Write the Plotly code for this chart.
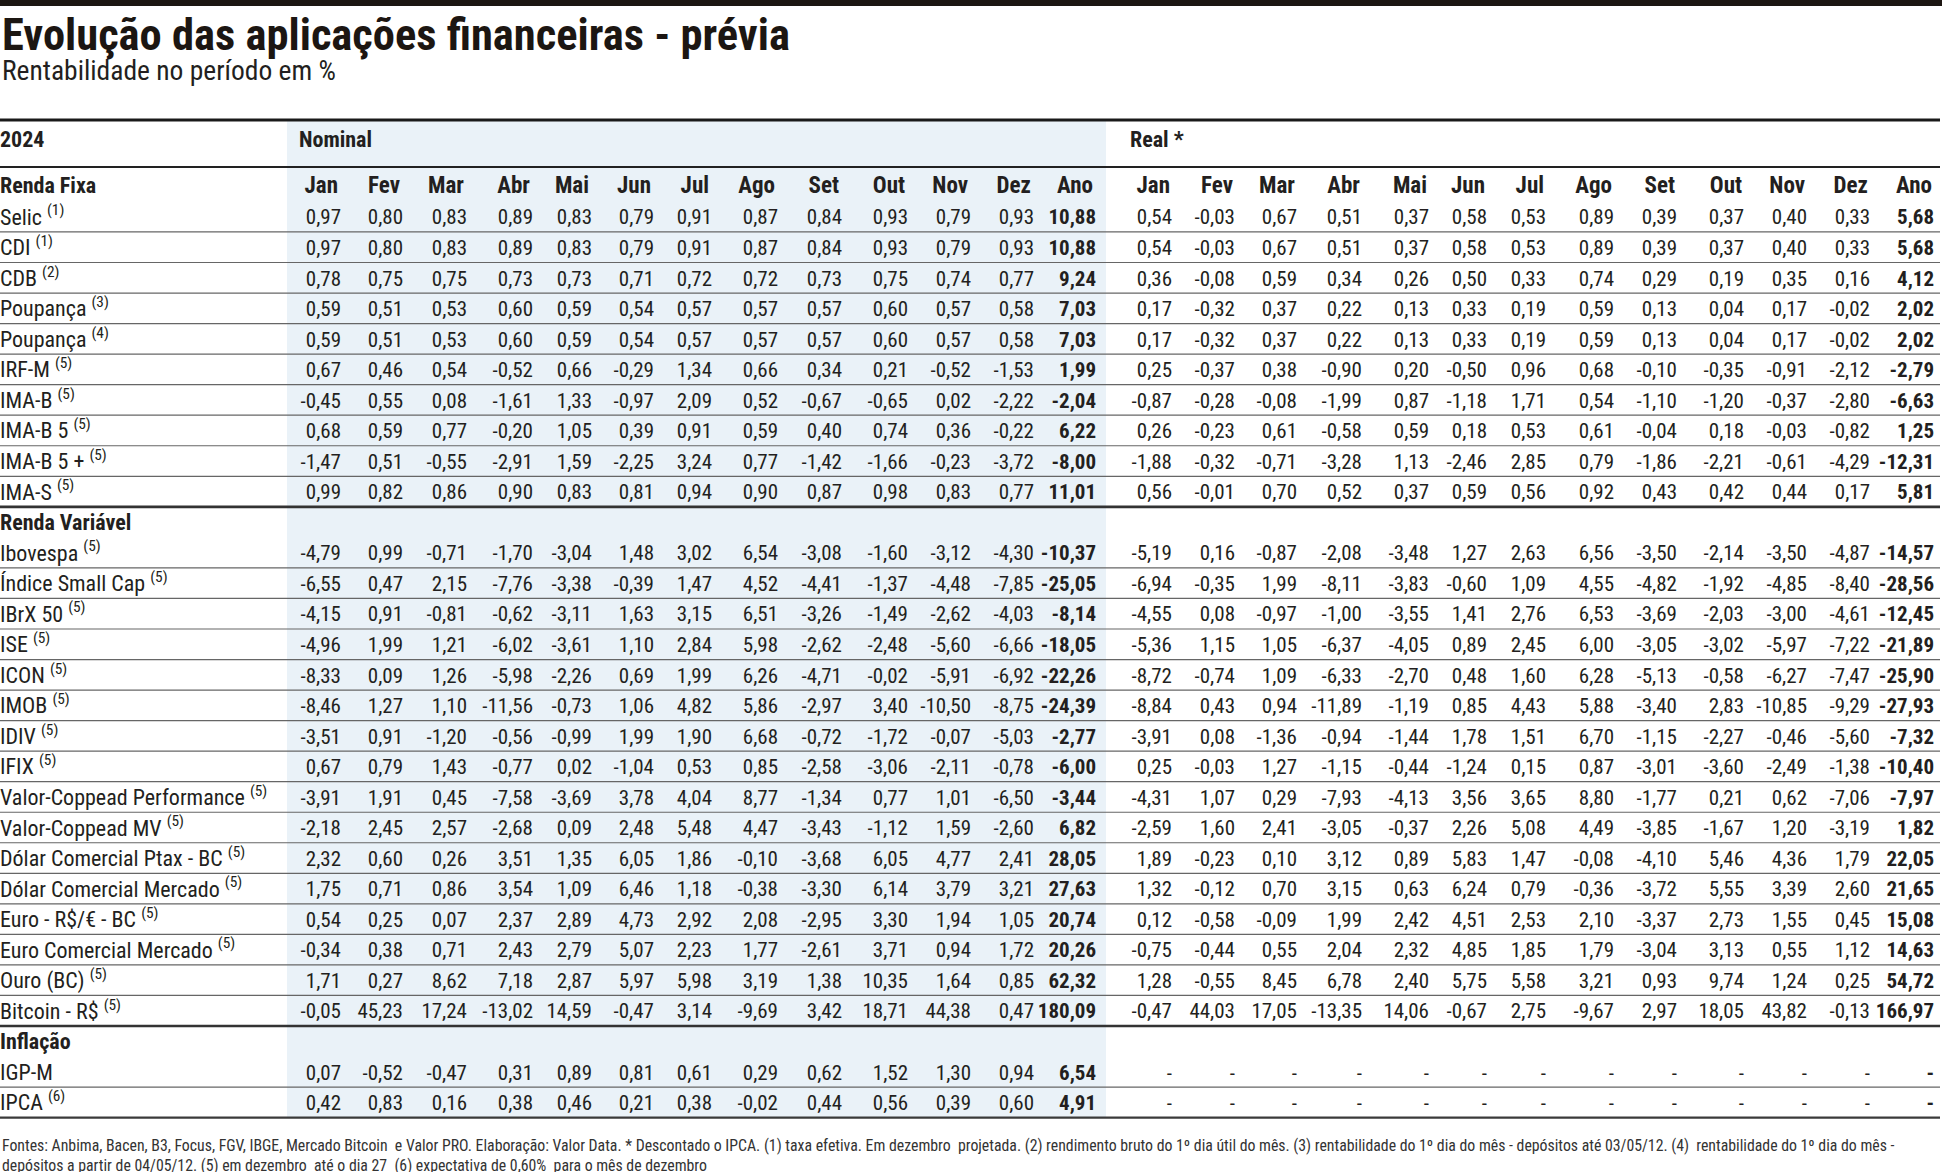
import plotly.graph_objects as go

# ---------------- data ----------------
TITLE = "Evolução das aplicações financeiras - prévia"
SUBTITLE = "Rentabilidade no período em %"
YEAR = "2024"
GROUP_NOMINAL = "Nominal"
GROUP_REAL = "Real *"
MONTHS = ["Jan", "Fev", "Mar", "Abr", "Mai", "Jun", "Jul", "Ago", "Set", "Out", "Nov", "Dez", "Ano"]

RF_TITLE = "Renda Fixa"
RF_LABELS = ["Selic", "CDI", "CDB", "Poupança", "Poupança", "IRF-M", "IMA-B", "IMA-B 5", "IMA-B 5 +", "IMA-S"]
RF_NOTES = ["1", "1", "2", "3", "4", "5", "5", "5", "5", "5"]
RF_NOMINAL = [
    [0.97, 0.80, 0.83, 0.89, 0.83, 0.79, 0.91, 0.87, 0.84, 0.93, 0.79, 0.93, 10.88],
    [0.97, 0.80, 0.83, 0.89, 0.83, 0.79, 0.91, 0.87, 0.84, 0.93, 0.79, 0.93, 10.88],
    [0.78, 0.75, 0.75, 0.73, 0.73, 0.71, 0.72, 0.72, 0.73, 0.75, 0.74, 0.77, 9.24],
    [0.59, 0.51, 0.53, 0.60, 0.59, 0.54, 0.57, 0.57, 0.57, 0.60, 0.57, 0.58, 7.03],
    [0.59, 0.51, 0.53, 0.60, 0.59, 0.54, 0.57, 0.57, 0.57, 0.60, 0.57, 0.58, 7.03],
    [0.67, 0.46, 0.54, -0.52, 0.66, -0.29, 1.34, 0.66, 0.34, 0.21, -0.52, -1.53, 1.99],
    [-0.45, 0.55, 0.08, -1.61, 1.33, -0.97, 2.09, 0.52, -0.67, -0.65, 0.02, -2.22, -2.04],
    [0.68, 0.59, 0.77, -0.20, 1.05, 0.39, 0.91, 0.59, 0.40, 0.74, 0.36, -0.22, 6.22],
    [-1.47, 0.51, -0.55, -2.91, 1.59, -2.25, 3.24, 0.77, -1.42, -1.66, -0.23, -3.72, -8.00],
    [0.99, 0.82, 0.86, 0.90, 0.83, 0.81, 0.94, 0.90, 0.87, 0.98, 0.83, 0.77, 11.01],
]
RF_REAL = [
    [0.54, -0.03, 0.67, 0.51, 0.37, 0.58, 0.53, 0.89, 0.39, 0.37, 0.40, 0.33, 5.68],
    [0.54, -0.03, 0.67, 0.51, 0.37, 0.58, 0.53, 0.89, 0.39, 0.37, 0.40, 0.33, 5.68],
    [0.36, -0.08, 0.59, 0.34, 0.26, 0.50, 0.33, 0.74, 0.29, 0.19, 0.35, 0.16, 4.12],
    [0.17, -0.32, 0.37, 0.22, 0.13, 0.33, 0.19, 0.59, 0.13, 0.04, 0.17, -0.02, 2.02],
    [0.17, -0.32, 0.37, 0.22, 0.13, 0.33, 0.19, 0.59, 0.13, 0.04, 0.17, -0.02, 2.02],
    [0.25, -0.37, 0.38, -0.90, 0.20, -0.50, 0.96, 0.68, -0.10, -0.35, -0.91, -2.12, -2.79],
    [-0.87, -0.28, -0.08, -1.99, 0.87, -1.18, 1.71, 0.54, -1.10, -1.20, -0.37, -2.80, -6.63],
    [0.26, -0.23, 0.61, -0.58, 0.59, 0.18, 0.53, 0.61, -0.04, 0.18, -0.03, -0.82, 1.25],
    [-1.88, -0.32, -0.71, -3.28, 1.13, -2.46, 2.85, 0.79, -1.86, -2.21, -0.61, -4.29, -12.31],
    [0.56, -0.01, 0.70, 0.52, 0.37, 0.59, 0.56, 0.92, 0.43, 0.42, 0.44, 0.17, 5.81],
]

RV_TITLE = "Renda Variável"
RV_LABELS = ["Ibovespa", "Índice Small Cap", "IBrX 50", "ISE", "ICON", "IMOB", "IDIV", "IFIX",
             "Valor-Coppead Performance", "Valor-Coppead MV", "Dólar Comercial Ptax - BC",
             "Dólar Comercial Mercado", "Euro - R$/€ - BC", "Euro Comercial Mercado",
             "Ouro (BC)", "Bitcoin - R$"]
RV_NOTES = ["5"] * 16
RV_NOMINAL = [
    [-4.79, 0.99, -0.71, -1.70, -3.04, 1.48, 3.02, 6.54, -3.08, -1.60, -3.12, -4.30, -10.37],
    [-6.55, 0.47, 2.15, -7.76, -3.38, -0.39, 1.47, 4.52, -4.41, -1.37, -4.48, -7.85, -25.05],
    [-4.15, 0.91, -0.81, -0.62, -3.11, 1.63, 3.15, 6.51, -3.26, -1.49, -2.62, -4.03, -8.14],
    [-4.96, 1.99, 1.21, -6.02, -3.61, 1.10, 2.84, 5.98, -2.62, -2.48, -5.60, -6.66, -18.05],
    [-8.33, 0.09, 1.26, -5.98, -2.26, 0.69, 1.99, 6.26, -4.71, -0.02, -5.91, -6.92, -22.26],
    [-8.46, 1.27, 1.10, -11.56, -0.73, 1.06, 4.82, 5.86, -2.97, 3.40, -10.50, -8.75, -24.39],
    [-3.51, 0.91, -1.20, -0.56, -0.99, 1.99, 1.90, 6.68, -0.72, -1.72, -0.07, -5.03, -2.77],
    [0.67, 0.79, 1.43, -0.77, 0.02, -1.04, 0.53, 0.85, -2.58, -3.06, -2.11, -0.78, -6.00],
    [-3.91, 1.91, 0.45, -7.58, -3.69, 3.78, 4.04, 8.77, -1.34, 0.77, 1.01, -6.50, -3.44],
    [-2.18, 2.45, 2.57, -2.68, 0.09, 2.48, 5.48, 4.47, -3.43, -1.12, 1.59, -2.60, 6.82],
    [2.32, 0.60, 0.26, 3.51, 1.35, 6.05, 1.86, -0.10, -3.68, 6.05, 4.77, 2.41, 28.05],
    [1.75, 0.71, 0.86, 3.54, 1.09, 6.46, 1.18, -0.38, -3.30, 6.14, 3.79, 3.21, 27.63],
    [0.54, 0.25, 0.07, 2.37, 2.89, 4.73, 2.92, 2.08, -2.95, 3.30, 1.94, 1.05, 20.74],
    [-0.34, 0.38, 0.71, 2.43, 2.79, 5.07, 2.23, 1.77, -2.61, 3.71, 0.94, 1.72, 20.26],
    [1.71, 0.27, 8.62, 7.18, 2.87, 5.97, 5.98, 3.19, 1.38, 10.35, 1.64, 0.85, 62.32],
    [-0.05, 45.23, 17.24, -13.02, 14.59, -0.47, 3.14, -9.69, 3.42, 18.71, 44.38, 0.47, 180.09],
]
RV_REAL = [
    [-5.19, 0.16, -0.87, -2.08, -3.48, 1.27, 2.63, 6.56, -3.50, -2.14, -3.50, -4.87, -14.57],
    [-6.94, -0.35, 1.99, -8.11, -3.83, -0.60, 1.09, 4.55, -4.82, -1.92, -4.85, -8.40, -28.56],
    [-4.55, 0.08, -0.97, -1.00, -3.55, 1.41, 2.76, 6.53, -3.69, -2.03, -3.00, -4.61, -12.45],
    [-5.36, 1.15, 1.05, -6.37, -4.05, 0.89, 2.45, 6.00, -3.05, -3.02, -5.97, -7.22, -21.89],
    [-8.72, -0.74, 1.09, -6.33, -2.70, 0.48, 1.60, 6.28, -5.13, -0.58, -6.27, -7.47, -25.90],
    [-8.84, 0.43, 0.94, -11.89, -1.19, 0.85, 4.43, 5.88, -3.40, 2.83, -10.85, -9.29, -27.93],
    [-3.91, 0.08, -1.36, -0.94, -1.44, 1.78, 1.51, 6.70, -1.15, -2.27, -0.46, -5.60, -7.32],
    [0.25, -0.03, 1.27, -1.15, -0.44, -1.24, 0.15, 0.87, -3.01, -3.60, -2.49, -1.38, -10.40],
    [-4.31, 1.07, 0.29, -7.93, -4.13, 3.56, 3.65, 8.80, -1.77, 0.21, 0.62, -7.06, -7.97],
    [-2.59, 1.60, 2.41, -3.05, -0.37, 2.26, 5.08, 4.49, -3.85, -1.67, 1.20, -3.19, 1.82],
    [1.89, -0.23, 0.10, 3.12, 0.89, 5.83, 1.47, -0.08, -4.10, 5.46, 4.36, 1.79, 22.05],
    [1.32, -0.12, 0.70, 3.15, 0.63, 6.24, 0.79, -0.36, -3.72, 5.55, 3.39, 2.60, 21.65],
    [0.12, -0.58, -0.09, 1.99, 2.42, 4.51, 2.53, 2.10, -3.37, 2.73, 1.55, 0.45, 15.08],
    [-0.75, -0.44, 0.55, 2.04, 2.32, 4.85, 1.85, 1.79, -3.04, 3.13, 0.55, 1.12, 14.63],
    [1.28, -0.55, 8.45, 6.78, 2.40, 5.75, 5.58, 3.21, 0.93, 9.74, 1.24, 0.25, 54.72],
    [-0.47, 44.03, 17.05, -13.35, 14.06, -0.67, 2.75, -9.67, 2.97, 18.05, 43.82, -0.13, 166.97],
]

INF_TITLE = "Inflação"
INF_LABELS = ["IGP-M", "IPCA"]
INF_NOTES = ["", "6"]
INF_NOMINAL = [
    [0.07, -0.52, -0.47, 0.31, 0.89, 0.81, 0.61, 0.29, 0.62, 1.52, 1.30, 0.94, 6.54],
    [0.42, 0.83, 0.16, 0.38, 0.46, 0.21, 0.38, -0.02, 0.44, 0.56, 0.39, 0.60, 4.91],
]
INF_REAL = [
    [None, None, None, None, None, None, None, None, None, None, None, None, None],
    [None, None, None, None, None, None, None, None, None, None, None, None, None],
]

FOOTNOTE_1 = ("Fontes: Anbima, Bacen, B3, Focus, FGV, IBGE, Mercado Bitcoin  e Valor PRO. Elaboração: Valor Data. "
              "* Descontado o IPCA. (1) taxa efetiva. Em dezembro  projetada. (2) rendimento bruto do 1º dia útil do mês. "
              "(3) rentabilidade do 1º dia do mês - depósitos até 03/05/12. (4)  rentabilidade do 1º dia do mês -")
FOOTNOTE_2 = "depósitos a partir de 04/05/12. (5) em dezembro  até o dia 27  (6) expectativa de 0,60%  para o mês de dezembro"

# ---------------- layout constants ----------------
W, H = 1942, 1172
FONT = "Liberation Sans Narrow, Roboto Condensed, DejaVu Sans Condensed, Arial Narrow, Roboto, sans-serif"
INK = "#231f20"
SHADE = "#eaf2f8"
COL_NOM = [341, 403, 467, 533, 592, 654, 712, 778, 842, 908, 971, 1034, 1096]
COL_REAL = [1172, 1235, 1297, 1362, 1429, 1487, 1546, 1614, 1677, 1744, 1807, 1870, 1934]
ROW0 = 216.7
STEP = 30.54
TEXT_DY = 2.5          # optical nudge: digits sit a little lower than the line-box centre
HEAD_Y = 139
MONTH_Y = 184.5
TABLE_TOP = 120
HEAD_LINE = 167
SHADE_X0, SHADE_X1 = 287, 1106


def fmt(v):
    if v is None:
        return "-"
    return f"{v:.2f}".replace(".", ",")


# assemble row sequence
rows = []  # (kind, label, note, nominal, real)
for lab, note, n, r in zip(RF_LABELS, RF_NOTES, RF_NOMINAL, RF_REAL):
    rows.append(("data", lab, note, n, r))
rows.append(("section", RV_TITLE, "", None, None))
for lab, note, n, r in zip(RV_LABELS, RV_NOTES, RV_NOMINAL, RV_REAL):
    rows.append(("data", lab, note, n, r))
rows.append(("section", INF_TITLE, "", None, None))
for lab, note, n, r in zip(INF_LABELS, INF_NOTES, INF_NOMINAL, INF_REAL):
    rows.append(("data", lab, note, n, r))

row_y = [ROW0 + i * STEP for i in range(len(rows))]

fig = go.Figure()

# labels column
lab_text, lab_y = [], []
sec_text, sec_y = [RF_TITLE], [MONTH_Y + TEXT_DY]
for (kind, lab, note, n, r), y in zip(rows, row_y):
    if kind == "section":
        sec_text.append(lab)
        sec_y.append(y + TEXT_DY)
    else:
        lab_text.append(lab + (f" <sup>({note})</sup>" if note else ""))
        lab_y.append(y + TEXT_DY)

fig.add_trace(go.Scatter(x=[0] * len(lab_y), y=lab_y, text=lab_text, mode="text",
                         textposition="middle right", hoverinfo="skip", showlegend=False,
                         textfont=dict(family=FONT, size=22, color=INK), cliponaxis=False))
fig.add_trace(go.Scatter(x=[0] * len(sec_y), y=sec_y, text=sec_text, mode="text",
                         textposition="middle right", hoverinfo="skip", showlegend=False,
                         textfont=dict(family=FONT, size=22, color=INK, weight="bold"), cliponaxis=False))

# header row
fig.add_trace(go.Scatter(x=[0, SHADE_X0 + 12, COL_REAL[0] - 42], y=[HEAD_Y + TEXT_DY] * 3,
                         text=[YEAR, GROUP_NOMINAL, GROUP_REAL], mode="text",
                         textposition="middle right", hoverinfo="skip", showlegend=False,
                         textfont=dict(family=FONT, size=22, color=INK, weight="bold"), cliponaxis=False))

# month headers
fig.add_trace(go.Scatter(x=[c - 3 for c in COL_NOM] + [c - 2 for c in COL_REAL], y=[MONTH_Y + TEXT_DY] * 26,
                         text=MONTHS + MONTHS, mode="text", textposition="middle left",
                         hoverinfo="skip", showlegend=False,
                         textfont=dict(family=FONT, size=23, color=INK, weight="bold"), cliponaxis=False))

# value columns
data_rows = [(r, y) for r, y in zip(rows, row_y) if r[0] == "data"]
for block, cols in ((3, COL_NOM), (4, COL_REAL)):
    for j, cx in enumerate(cols):
        vals = [fmt(r[block][j]) for r, _ in data_rows]
        ys = [y + TEXT_DY for _, y in data_rows]
        is_year = j == len(cols) - 1
        fig.add_trace(go.Scatter(
            x=[cx] * len(ys), y=ys, text=vals, mode="text", textposition="middle left",
            hoverinfo="skip", showlegend=False, cliponaxis=False,
            textfont=dict(family=FONT, size=21, color=INK, weight="bold" if is_year else "normal")))

# ---------------- shapes ----------------
shapes = []
table_bottom = ROW0 + (len(rows) - 0.5) * STEP
shapes.append(dict(type="rect", xref="x", yref="y", x0=SHADE_X0, x1=SHADE_X1, y0=TABLE_TOP,
                   y1=table_bottom, fillcolor=SHADE, line=dict(width=0), layer="below"))
shapes.append(dict(type="rect", xref="x", yref="y", x0=0, x1=W, y0=0, y1=6,
                   fillcolor="#1c1612", line=dict(width=0), layer="above"))


def hline(y, width, color):
    shapes.append(dict(type="line", xref="x", yref="y", x0=0, x1=W - 2, y0=y, y1=y,
                       line=dict(width=width, color=color), layer="above"))


hline(TABLE_TOP, 3, "#1a1a1a")
hline(HEAD_LINE, 2, "#222222")
for i in range(len(rows) - 1):
    y = ROW0 + (i + 0.5) * STEP
    nxt = rows[i + 1][0]
    cur = rows[i][0]
    if nxt == "section":
        hline(y, 2.6, "#333333")
    elif cur == "section":
        continue
    else:
        hline(y, 1.2, "#666666")
hline(table_bottom, 2.4, "#3a3a3a")

# ---------------- text annotations ----------------
annotations = [
    dict(xref="x", yref="y", x=0, y=35, text=f"<b>{TITLE}</b>", showarrow=False,
         xanchor="left", yanchor="middle", font=dict(family=FONT, size=44.5, color="#1c1612")),
    dict(xref="x", yref="y", x=0, y=70, text=SUBTITLE, showarrow=False,
         xanchor="left", yanchor="middle", font=dict(family=FONT, size=27.5, color=INK)),
    dict(xref="x", yref="y", x=0, y=1145, text=FOOTNOTE_1, showarrow=False,
         xanchor="left", yanchor="middle", font=dict(family=FONT, size=15.8, color="#333333")),
    dict(xref="x", yref="y", x=0, y=1165, text=FOOTNOTE_2, showarrow=False,
         xanchor="left", yanchor="middle", font=dict(family=FONT, size=15.8, color="#333333")),
]

fig.update_layout(
    width=W, height=H, autosize=False,
    margin=dict(l=0, r=0, t=0, b=0),
    paper_bgcolor="white", plot_bgcolor="white",
    xaxis=dict(range=[0, W], visible=False, fixedrange=True),
    yaxis=dict(range=[H, 0], visible=False, fixedrange=True),
    shapes=shapes, annotations=annotations, showlegend=False,
)

fig.write_html("out.html", config={"displayModeBar": False},
               post_script="document.body.style.margin='0px';document.body.style.overflow='hidden';")
